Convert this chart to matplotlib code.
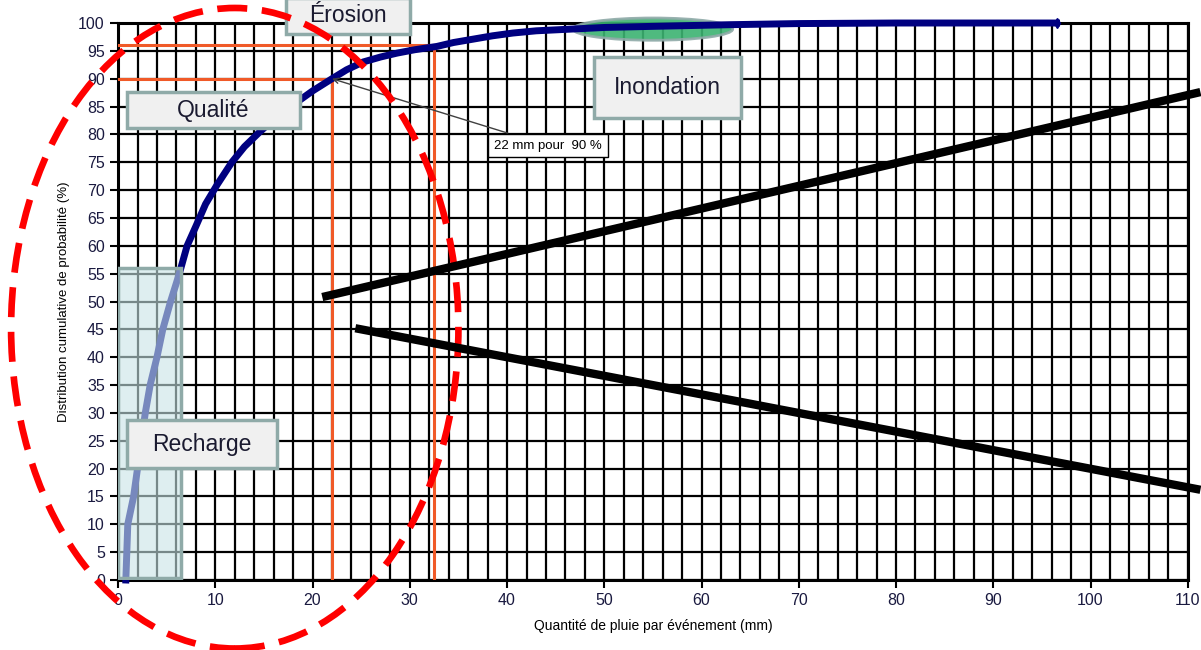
import matplotlib
matplotlib.use("Agg")
import matplotlib.pyplot as plt
from matplotlib.patches import Rectangle, Ellipse

plt.rcParams['font.family'] = ['Liberation Sans', 'DejaVu Sans']

# Courbe de distribution cumulative
pluie_mm = [0.8, 0.9, 1.0, 1.3, 1.6, 2.0, 2.4, 2.8, 3.3, 4.0, 4.6, 5.4, 6.3, 7.1,
            8.0, 9.0, 10.2, 11.7, 13.0, 14.6, 16.2, 18.0, 20.0, 22.0, 23.5, 25.2,
            27.0, 28.7, 30.5, 32.8, 34.5, 36.5, 38.5, 40.6, 43.0, 46.5, 50.0, 55.0,
            63.0, 70.0, 80.0, 96.5]
proba = [0, 5, 10, 12.5, 15, 20, 25, 30, 35, 40, 45, 50, 55, 60,
         63.5, 67.5, 71, 75, 77.8, 80.5, 83, 85.3, 87.8, 90, 91.6, 93,
         93.9, 94.6, 95.2, 95.8, 96.5, 97.1, 97.7, 98.2, 98.6, 98.9, 99.2, 99.4,
         99.7, 99.9, 100, 100]

# Seuils (mm, %)
seuil_qualite = (22, 90)
seuil_erosion = (32.5, 96)

# Boites de texte: (x0, y0, x1, y1, texte)
boites = [
    (17.3, 98.1, 30.0, 104.5, "Érosion"),
    (0.9, 81.1, 18.7, 87.6, "Qualité"),
    (48.9, 82.9, 64.1, 93.9, "Inondation"),
    (0.9, 20.1, 16.3, 28.7, "Recharge"),
]

fig = plt.figure(figsize=(12.01, 6.5), dpi=100)
ax = fig.add_axes([0.0983, 0.1077, 0.8907, 0.8569])

ax.set_xlim(0, 110)
ax.set_ylim(0, 100)
ax.set_xticks(range(0, 111, 10))
ax.set_yticks(range(0, 101, 5))
ax.set_xticks(range(0, 111, 2), minor=True)
ax.grid(which='both', axis='x', color='black', lw=1.6)
ax.grid(which='major', axis='y', color='black', lw=1.6)
ax.tick_params(which='major', direction='out', length=6, width=1.5,
               labelsize=11.5, labelcolor='#1a1a40')
ax.tick_params(which='minor', length=0)
for s in ax.spines.values():
    s.set_linewidth(2.2)
ax.set_axisbelow(True)

ax.set_xlabel("Quantité de pluie par événement (mm)", fontsize=10, labelpad=8)
ax.set_ylabel("Distribution cumulative de probabilité (%)", fontsize=9.5, labelpad=6)

# lignes de seuil
for (xs, ys) in [seuil_qualite, seuil_erosion]:
    ax.plot([0, xs], [ys, ys], color='#f05a28', lw=2.2, zorder=3)
    ax.plot([xs, xs], [0, ys], color='#f05a28', lw=2.2, zorder=3)

# zone inondation
ax.add_patch(Ellipse((55.0, 98.9), 16.4, 4.0, facecolor='#3cb371',
                     edgecolor='#8faaa8', lw=2, alpha=0.9, zorder=3.5, clip_on=False))

ax.plot(pluie_mm, proba, color='#000080', lw=5, zorder=4, clip_on=False,
        solid_joinstyle='round')
ax.plot([pluie_mm[-1]], [proba[-1]], marker='d', color='#000080', ms=5, zorder=4, clip_on=False)

# zone recharge
ax.add_patch(Rectangle((0, 0.3), 6.5, 55.7, facecolor='#c8e4e6', edgecolor='none',
                       alpha=0.6, zorder=5))
ax.add_patch(Rectangle((0, 0.3), 6.5, 55.7, facecolor='none', edgecolor='#8faaa8',
                       lw=2.5, zorder=5))

for x0, y0, x1, y1, txt in boites:
    ax.add_patch(Rectangle((x0, y0), x1 - x0, y1 - y0, facecolor='#f0f0f0',
                           edgecolor='#8faaa8', lw=2.5, zorder=6, clip_on=False))
    ax.text((x0 + x1) / 2, (y0 + y1) / 2, txt, ha='center', va='center',
            fontsize=16.5, color='#1a1a30', zorder=7, clip_on=False)

ax.annotate("22 mm pour  90 %", xy=seuil_qualite, xytext=(44.2, 78),
            ha='center', va='center', fontsize=9.5, zorder=7,
            bbox=dict(boxstyle='square,pad=0.45', fc='white', ec='black', lw=1),
            arrowprops=dict(arrowstyle='->', color='#404040', lw=1, shrinkA=0, shrinkB=0))

# ellipse rouge en pointillés
ax.add_patch(Ellipse((12.0, 45.2), 46, 115, facecolor='none', edgecolor='#ff0000',
                     lw=4.8, ls=(0, (4.5, 2.2)), zorder=8, clip_on=False))

# lignes noires
ax.plot([21.0, 111.3], [50.8, 87.6], color='black', lw=6, zorder=8, clip_on=False,
        solid_capstyle='butt')
ax.plot([24.4, 111.3], [45.2, 16.2], color='black', lw=6, zorder=8, clip_on=False,
        solid_capstyle='butt')

fig.savefig("out.png", dpi=100)
